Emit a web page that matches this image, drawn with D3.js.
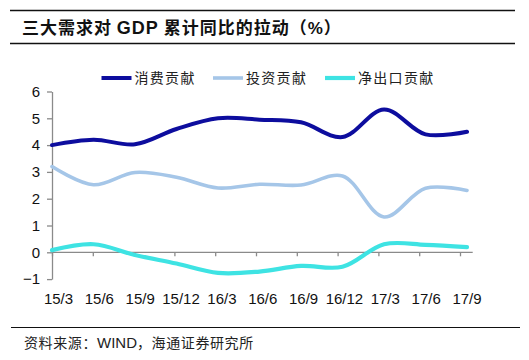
<!DOCTYPE html>
<html><head><meta charset="utf-8">
<script src="https://cdn.jsdelivr.net/npm/d3@7"></script>
<style>
html,body{margin:0;padding:0;background:#fff;}
svg{display:block;}
</style></head>
<body><svg id="c" width="529" height="360"></svg>
<script>
const categories = ["15/3","15/6","15/9","15/12","16/3","16/6","16/9","16/12","17/3","17/6","17/9"];
const consumption = [4.0, 4.2, 4.03, 4.6, 5.0, 4.95, 4.85, 4.3, 5.33, 4.4, 4.5];
const investment  = [3.2, 2.52, 2.98, 2.8, 2.4, 2.54, 2.51, 2.85, 1.32, 2.39, 2.31];
const netExports  = [0.08, 0.3, -0.1, -0.42, -0.77, -0.72, -0.51, -0.54, 0.3, 0.28, 0.19];
const seriesNames = ["消费贡献","投资贡献","净出口贡献"];
const yTicks = [-1,0,1,2,3,4,5,6];

const colors = ["#0d0d9e","#a5c6e8","#3ee3e3"];
const widths = [4,3.6,4.2];

const svg = d3.select("#c");
const cjk = "'Noto Sans CJK SC', sans-serif";
const lat = "'Liberation Sans', Arial, sans-serif";

// title rules and title
svg.append("line").attr("x1",10).attr("x2",515).attr("y1",10.5).attr("y2",10.5).attr("stroke","#111").attr("stroke-width",1.3);
svg.append("line").attr("x1",10).attr("x2",515).attr("y1",43.5).attr("y2",43.5).attr("stroke","#111").attr("stroke-width",1.3);
const title = svg.append("text").attr("x",22).attr("y",34).attr("font-family",cjk).attr("font-weight","bold")
  .attr("font-size",17).attr("letter-spacing",1).attr("fill","#111");
title.append("tspan").text("三大需求对 ");
title.append("tspan").attr("font-family",lat).attr("font-size",18).text("GDP");
title.append("tspan").text(" 累计同比的拉动（");
title.append("tspan").attr("font-family",lat).attr("font-size",17).text("%");
title.append("tspan").text("）");

// bottom rule and source
svg.append("line").attr("x1",11).attr("x2",520).attr("y1",327.5).attr("y2",327.5).attr("stroke","#111").attr("stroke-width",1.2);
const src = svg.append("text").attr("x",24).attr("y",348).attr("font-family",cjk)
  .attr("font-size",14).attr("letter-spacing",0.6).attr("fill","#222");
src.append("tspan").text("资料来源：");
src.append("tspan").attr("font-family",lat).attr("font-size",15).attr("letter-spacing",0).text("WIND");
src.append("tspan").text("，海通证券研究所");

// scales
const y = d3.scaleLinear().domain([-1,6]).range([279.1,91.5]);
const xData = d3.scaleLinear().domain([0,categories.length-1]).range([52,467]);
const xTick = d3.scaleLinear().domain([0,categories.length-1]).range([52,460]);
const xLabel = d3.scaleLinear().domain([0,categories.length-1]).range([58.5,467]);

// y axis
const yAxis = d3.axisLeft(y).tickValues(yTicks).tickSize(5).tickSizeOuter(0).tickFormat(d3.format("d"));
const gy = svg.append("g").attr("transform","translate(52,0)").call(yAxis);
gy.select(".domain").attr("stroke","#8a8a8a").attr("stroke-width",1.3);
gy.selectAll(".tick line").attr("stroke","#8a8a8a").attr("stroke-width",1.3);
gy.selectAll(".tick text").attr("font-family",lat).attr("font-size",15).attr("fill","#111").attr("x",-12);

// x axis at y=0
const xAxis = d3.axisBottom(xTick).tickValues(d3.range(categories.length)).tickSize(4).tickSizeOuter(0).tickFormat(()=> "");
const gx = svg.append("g").attr("transform",`translate(0,${y(0)})`).call(xAxis);
gx.select(".domain").remove();
gx.append("line").attr("x1",52).attr("x2",472.7).attr("y1",0).attr("y2",0).attr("stroke","#8a8a8a").attr("stroke-width",1.3);
gx.selectAll(".tick line").attr("stroke","#8a8a8a").attr("stroke-width",1.3);

svg.append("g").selectAll("text").data(categories).join("text")
  .attr("x",(d,i)=>xLabel(i)).attr("y",303.5).attr("text-anchor","middle")
  .attr("font-family",lat).attr("font-size",15).attr("fill","#111").text(d=>d);

// lines
const line = d3.line().x((d,i)=>xData(i)).y(d=>y(d)).curve(d3.curveCatmullRom.alpha(0.5));
const allSeries = [consumption, investment, netExports];
svg.append("g").selectAll("path").data(allSeries).join("path")
  .attr("d",d=>line(d)).attr("fill","none")
  .attr("stroke",(d,i)=>colors[i]).attr("stroke-width",(d,i)=>widths[i])
  .attr("stroke-linecap","round").attr("stroke-linejoin","round");

// legend
const legendX = [101.5, 213, 325];
const lg = svg.append("g");
seriesNames.forEach((n,i)=>{
  lg.append("line").attr("x1",legendX[i]).attr("x2",legendX[i]+30).attr("y1",78).attr("y2",78)
    .attr("stroke",colors[i]).attr("stroke-width",widths[i]);
  lg.append("text").attr("x",legendX[i]+33).attr("y",83).attr("font-family",cjk)
    .attr("font-size",14).attr("letter-spacing",1.3).attr("fill","#222").text(n);
});
</script></body></html>
